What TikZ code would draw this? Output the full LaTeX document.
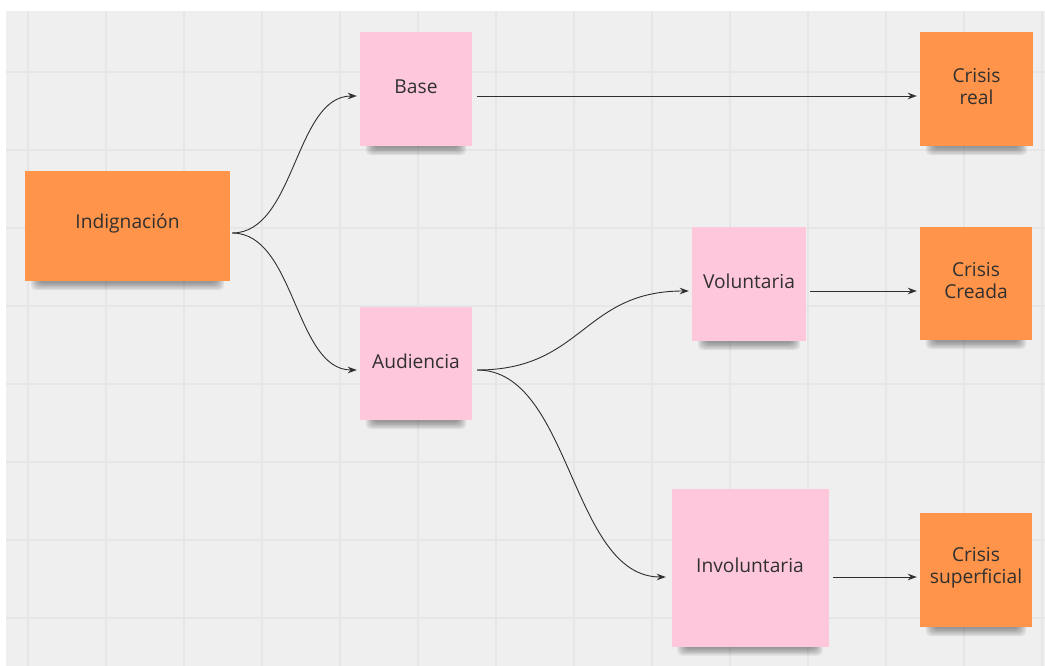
\documentclass[tikz,border=0pt]{standalone}
\usepackage{fontspec}
\setmainfont{Open Sans}
\usetikzlibrary{arrows.meta,calc,backgrounds}
\definecolor{bg}{HTML}{EFEFEF}
\definecolor{gridc}{HTML}{E6E6E6}
\definecolor{orng}{HTML}{FF944A}
\definecolor{pnk}{HTML}{FFC7DB}
\definecolor{txt}{HTML}{303030}
\definecolor{ln}{HTML}{2E2E2E}
\newcommand\stickyshadow[1]{%
  \foreach \k in {0,...,5}{%
    \fill[black,opacity=0.07,rounded corners=5pt]
      ($(#1.south west)+(6+\k*1.5,-14)$) rectangle ($(#1.south east)+(-6-\k*1.5,9-\k*1.4)$);}}
\begin{document}
\begin{tikzpicture}[x=1pt,y=-1pt,
  lbl/.style={font=\fontsize{19.2}{22}\selectfont,text=txt,align=center,yshift=2.5pt,inner sep=0pt},
  stickyo/.style={fill=orng,draw=none,inner sep=0pt},
  stickyp/.style={fill=pnk,draw=none,inner sep=0pt},
  arr/.style={draw=ln,line width=0.9pt,-{Stealth[length=9pt,width=6.5pt]}}]
\useasboundingbox (0,0) rectangle (1045,666);

% sticky notes
\node[stickyo,minimum width=205pt,minimum height=110pt,label={[lbl]center:Indignación}] (ind) at (127.5,226) {};
\node[stickyp,minimum width=112pt,minimum height=114pt,label={[lbl]center:Base}] (base) at (416,89) {};
\node[stickyo,minimum width=113pt,minimum height=114pt,label={[lbl]center:Crisis\\real}] (real) at (976.5,89) {};
\node[stickyp,minimum width=112pt,minimum height=113pt,label={[lbl]center:Audiencia}] (aud) at (416,363.5) {};
\node[stickyp,minimum width=114pt,minimum height=114pt,label={[lbl]center:Voluntaria}] (vol) at (749,284) {};
\node[stickyo,minimum width=112pt,minimum height=113pt,label={[lbl]center:Crisis\\Creada}] (creada) at (976,283.5) {};
\node[stickyp,minimum width=157pt,minimum height=158pt,label={[lbl]center:Involuntaria}] (invol) at (750,567.5) {};
\node[stickyo,minimum width=112pt,minimum height=114pt,label={[lbl]center:Crisis\\superficial}] (sup) at (976,570) {};

% connectors
\draw[arr] ($(ind.east)+(2,7)$) .. controls ($(ind.east)+(65,7)$) and ($(base.west)+(-65,7)$) .. ($(base.west)+(-3,7)$);
\draw[arr] ($(ind.east)+(2,7)$) .. controls ($(ind.east)+(65,7)$) and ($(aud.west)+(-65,6.5)$) .. ($(aud.west)+(-3,6.5)$);
\draw[arr] ($(base.east)+(5,7)$) -- ($(real.west)+(-3,7)$);
\draw[arr] ($(aud.east)+(5,6.5)$) .. controls ($(aud.east)+(111,6.5)$) and ($(vol.west)+(-109,7)$) .. ($(vol.west)+(-3,7)$);
\draw[arr] ($(aud.east)+(5,6.5)$) .. controls ($(aud.east)+(99,6.5)$) and ($(invol.west)+(-100.5,9.5)$) .. ($(invol.west)+(-5.5,9.5)$);
\draw[arr] ($(vol.east)+(4,7)$) -- ($(creada.west)+(-3,7.5)$);
\draw[arr] ($(invol.east)+(4.5,9.5)$) -- ($(sup.west)+(-3,7)$);

% background grid and shadows
\begin{scope}[on background layer]
  \fill[white] (0,0) rectangle (1045,666);
  \fill[bg] (6,11) rectangle (1045,666);
  \foreach \gx in {28,106,...,1045} \draw[gridc,line width=1.8pt] (\gx,11) -- (\gx,666);
  \foreach \gy in {72,150,...,666} \draw[gridc,line width=1.8pt] (6,\gy) -- (1045,\gy);
  \stickyshadow{ind}
  \stickyshadow{base}
  \stickyshadow{real}
  \stickyshadow{aud}
  \stickyshadow{vol}
  \stickyshadow{creada}
  \stickyshadow{invol}
  \stickyshadow{sup}
\end{scope}
\end{tikzpicture}
\end{document}
